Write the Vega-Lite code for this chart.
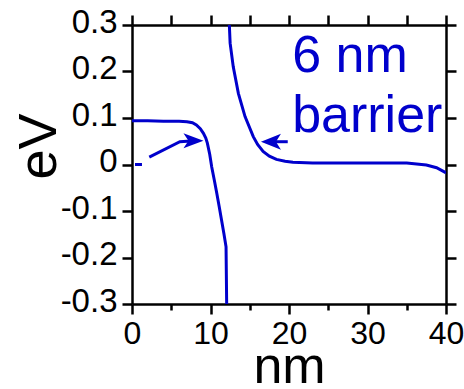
{
  "$schema": "https://vega.github.io/schema/vega-lite/v6.json",
  "width": 314,
  "height": 279,
  "autosize": {"type": "none"},
  "padding": {"left": 132, "top": 25, "right": 18, "bottom": 85},
  "config": {
    "view": {"stroke": null},
    "axis": {
      "domainColor": "black", "domainWidth": 2.5,
      "tickColor": "black", "tickWidth": 2.5,
      "labelFont": "Liberation Sans", "titleFont": "Liberation Sans",
      "labelColor": "black", "titleColor": "black", "grid": false
    }
  },
  "datasets": {
    "lines": [
      {"s": "left", "x": 0, "y": 0.094},
      {"s": "left", "x": 2, "y": 0.094},
      {"s": "left", "x": 4, "y": 0.093},
      {"s": "left", "x": 6, "y": 0.093},
      {"s": "left", "x": 7, "y": 0.092},
      {"s": "left", "x": 7.7, "y": 0.09},
      {"s": "left", "x": 8.2, "y": 0.085},
      {"s": "left", "x": 8.7, "y": 0.077},
      {"s": "left", "x": 9.1, "y": 0.067},
      {"s": "left", "x": 9.4, "y": 0.057},
      {"s": "left", "x": 9.6, "y": 0.046},
      {"s": "left", "x": 9.9, "y": 0.022},
      {"s": "left", "x": 10.15, "y": -0.005},
      {"s": "left", "x": 10.5, "y": -0.035},
      {"s": "left", "x": 10.8, "y": -0.062},
      {"s": "left", "x": 11.1, "y": -0.09},
      {"s": "left", "x": 11.4, "y": -0.119},
      {"s": "left", "x": 11.7, "y": -0.148},
      {"s": "left", "x": 11.98, "y": -0.177},
      {"s": "left", "x": 12.06, "y": -0.3},
      {"s": "right", "x": 12.4, "y": 0.3},
      {"s": "right", "x": 12.5, "y": 0.261},
      {"s": "right", "x": 12.9, "y": 0.21},
      {"s": "right", "x": 13.55, "y": 0.153},
      {"s": "right", "x": 14.4, "y": 0.103},
      {"s": "right", "x": 15.45, "y": 0.06},
      {"s": "right", "x": 16.0, "y": 0.043},
      {"s": "right", "x": 16.7, "y": 0.028},
      {"s": "right", "x": 17.5, "y": 0.018},
      {"s": "right", "x": 18.4, "y": 0.011},
      {"s": "right", "x": 19.5, "y": 0.007},
      {"s": "right", "x": 20.5, "y": 0.005},
      {"s": "right", "x": 23, "y": 0.003},
      {"s": "right", "x": 30, "y": 0.003},
      {"s": "right", "x": 35, "y": 0.003},
      {"s": "right", "x": 37.5, "y": -0.001},
      {"s": "right", "x": 38.8, "y": -0.007},
      {"s": "right", "x": 39.9, "y": -0.017},
      {"s": "right", "x": 40, "y": -0.018},
      {"s": "arrow1", "x": 2.2, "y": 0.016},
      {"s": "arrow1", "x": 6.1, "y": 0.049},
      {"s": "arrow1", "x": 8.0, "y": 0.051},
      {"s": "arrow2", "x": 17.6, "y": 0.049},
      {"s": "arrow2", "x": 19.84, "y": 0.049},
      {"s": "tick", "x": 0.38, "y": 0},
      {"s": "tick", "x": 1.27, "y": 0}
    ],
    "headsR": [{"x": 7.83, "y": 0.051}],
    "headsL": [{"x": 17.7, "y": 0.049}],
    "texts": [
      {"t": "6 nm", "x": 20.4, "y": 0.199},
      {"t": "barrier", "x": 20.4, "y": 0.07}
    ]
  },
  "layer": [
    {
      "data": {"name": "lines"},
      "mark": {"type": "line", "color": "#0000cc", "strokeWidth": 3, "clip": true},
      "encoding": {
        "x": {
          "field": "x", "type": "quantitative",
          "scale": {"domain": [0, 40], "nice": false},
          "axis": {
            "orient": "bottom", "values": [0, 5, 10, 15, 20, 25, 30, 35, 40],
            "labelExpr": "datum.value % 10 === 0 ? datum.label : ''",
            "tickSize": {"condition": {"test": "datum.value % 10 !== 0", "value": 6}, "value": 10},
            "labelFontSize": 32, "labelPadding": 4, "labelFlush": false,
            "title": "nm", "titleFontSize": 52, "titleFontWeight": "normal",
            "titleBaseline": "alphabetic", "titleY": 78
          }
        },
        "y": {
          "field": "y", "type": "quantitative",
          "scale": {"domain": [-0.3, 0.3], "nice": false},
          "axis": {
            "orient": "left", "values": [-0.3, -0.2, -0.1, 0, 0.1, 0.2, 0.3],
            "format": ".1~f",
            "labelExpr": "replace(datum.label, '\u2212', '-')",
            "tickSize": 10, "labelFontSize": 33, "labelPadding": 5, "labelFlush": false,
            "labelOffset": -3,
            "title": "eV", "titleFontSize": 54, "titleFontWeight": "normal",
            "titleBaseline": "alphabetic", "titleX": -77, "titleY": 121, "titleAngle": -90
          }
        },
        "detail": {"field": "s"}
      }
    },
    {
      "data": {"name": "headsR"},
      "mark": {"type": "point", "shape": "M1,0L-1,-0.75L-0.5,0L-1,0.75Z", "size": 400, "filled": true, "color": "#0000cc", "opacity": 1},
      "encoding": {
        "x": {
          "field": "x", "type": "quantitative",
          "axis": {"orient": "top", "values": [0, 5, 10, 15, 20, 25, 30, 35, 40], "labels": false, "title": null, "tickSize": 10}
        },
        "y": {
          "field": "y", "type": "quantitative",
          "axis": {"orient": "right", "values": [-0.3, -0.2, -0.1, 0, 0.1, 0.2, 0.3], "labels": false, "title": null, "tickSize": 10}
        }
      }
    },
    {
      "data": {"name": "headsL"},
      "mark": {"type": "point", "shape": "M-1,0L1,-0.8L0.5,0L1,0.8Z", "size": 400, "filled": true, "color": "#0000cc", "opacity": 1},
      "encoding": {
        "x": {"field": "x", "type": "quantitative", "axis": null},
        "y": {"field": "y", "type": "quantitative", "axis": null}
      }
    },
    {
      "data": {"name": "texts"},
      "mark": {"type": "text", "font": "Liberation Sans", "fontSize": 52, "align": "left", "baseline": "alphabetic", "color": "#0000cc"},
      "encoding": {
        "x": {"field": "x", "type": "quantitative", "axis": null},
        "y": {"field": "y", "type": "quantitative", "axis": null},
        "text": {"field": "t"}
      }
    }
  ]
}
